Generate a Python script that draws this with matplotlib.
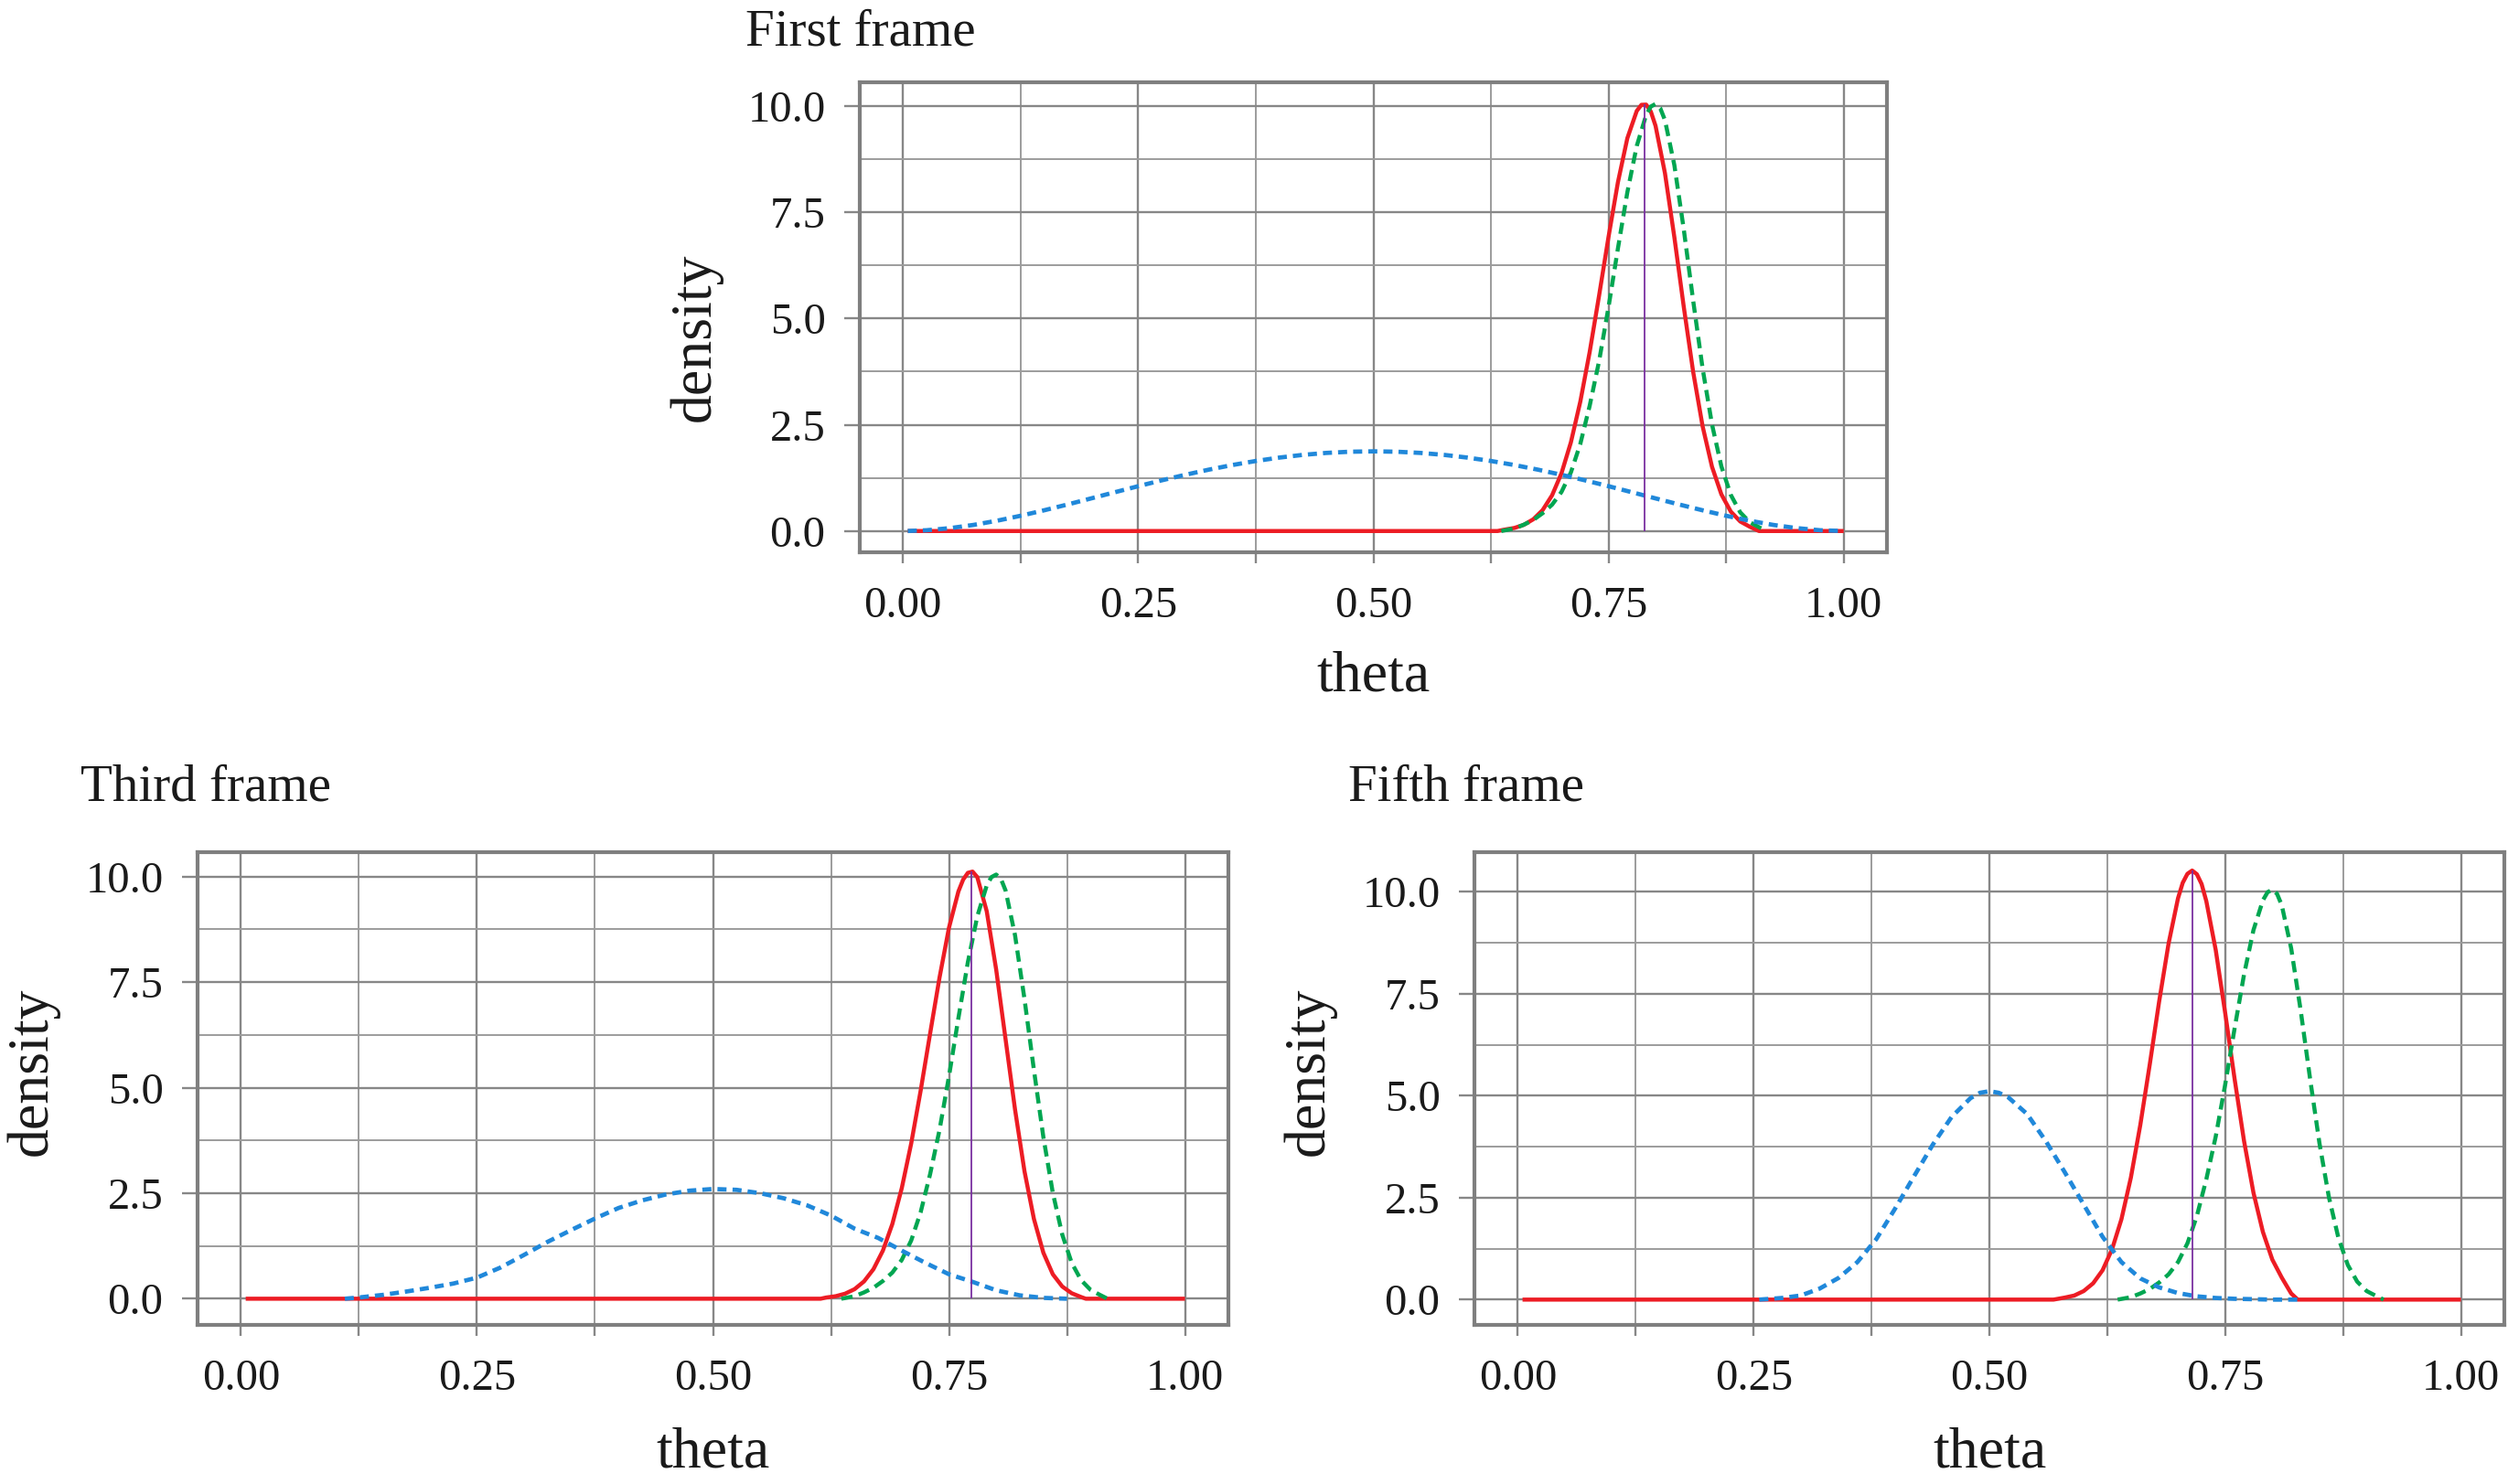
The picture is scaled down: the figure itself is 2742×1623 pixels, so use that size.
import matplotlib
matplotlib.use("Agg")
import matplotlib.pyplot as plt
from matplotlib.ticker import MultipleLocator, FixedLocator, FixedFormatter

plt.rcParams['font.family'] = ['Liberation Serif', 'DejaVu Serif']

# ---------------- data ----------------
# First frame
blue1_x = [0.005, 0.025, 0.05, 0.075, 0.1, 0.125, 0.15, 0.175, 0.2, 0.225, 0.25,
           0.275, 0.3, 0.325, 0.35, 0.375, 0.4, 0.425, 0.45, 0.475, 0.5,
           0.525, 0.55, 0.575, 0.6, 0.625, 0.65, 0.675, 0.7, 0.725, 0.75,
           0.775, 0.8, 0.825, 0.85, 0.875, 0.9, 0.925, 0.95, 0.975, 1.0]
blue1_y = [0.001, 0.018, 0.068, 0.144, 0.243, 0.359, 0.488, 0.625, 0.768, 0.912, 1.055,
           1.193, 1.323, 1.444, 1.553, 1.648, 1.728, 1.792, 1.838, 1.866, 1.875,
           1.866, 1.838, 1.792, 1.728, 1.648, 1.553, 1.444, 1.323, 1.193, 1.055,
           0.912, 0.768, 0.625, 0.488, 0.359, 0.243, 0.144, 0.068, 0.018, 0.0]

green_x = [0.636, 0.65, 0.66, 0.67, 0.68, 0.69, 0.70, 0.71, 0.72, 0.73, 0.74, 0.75,
           0.76, 0.77, 0.78, 0.79, 0.795, 0.80, 0.805, 0.81, 0.82, 0.83, 0.84, 0.85, 0.86,
           0.87, 0.88, 0.89, 0.90, 0.91, 0.918]
green_y = [0.0, 0.06, 0.15, 0.26, 0.42, 0.62, 0.92, 1.38, 2.05, 2.95, 4.00, 5.27,
           6.65, 7.97, 9.06, 9.79, 9.99, 10.05, 9.95, 9.67, 8.61, 7.10, 5.42, 3.83, 2.51,
           1.52, 0.85, 0.44, 0.21, 0.09, 0.0]

red1_x = [0.005, 0.632, 0.64, 0.65, 0.66, 0.67, 0.68, 0.69, 0.70, 0.71, 0.72, 0.73,
          0.74, 0.75, 0.76, 0.77, 0.78, 0.785, 0.79, 0.795, 0.80, 0.81, 0.82, 0.83, 0.84,
          0.85, 0.86, 0.87, 0.88, 0.89, 0.90, 0.91, 1.0]
red1_y = [0.0, 0.0, 0.035, 0.073, 0.146, 0.276, 0.494, 0.841, 1.36, 2.088, 3.044, 4.216,
          5.544, 6.921, 8.208, 9.243, 9.885, 10.03, 10.035, 9.87, 9.535, 8.422, 6.914, 5.276, 3.744,
          2.469, 1.513, 0.862, 0.457, 0.225, 0.103, 0.0, 0.0]
mode1 = 0.788
peak1 = 10.05

# Third frame
blue3_x = [0.11, 0.125, 0.15, 0.175, 0.2, 0.225, 0.25, 0.275, 0.3, 0.325, 0.35,
           0.375, 0.4, 0.425, 0.45, 0.475, 0.5, 0.525, 0.55, 0.575, 0.6,
           0.625, 0.65, 0.675, 0.7, 0.725, 0.75, 0.775, 0.8, 0.825, 0.85, 0.875]
blue3_y = [0.0, 0.03, 0.09, 0.17, 0.26, 0.36, 0.50, 0.74, 1.04, 1.35, 1.63,
           1.90, 2.15, 2.33, 2.47, 2.56, 2.60, 2.58, 2.50, 2.38, 2.21,
           1.97, 1.66, 1.44, 1.14, 0.85, 0.58, 0.40, 0.20, 0.08, 0.02, 0.0]

red3_x = [0.005, 0.614, 0.62, 0.63, 0.64, 0.65, 0.66, 0.67, 0.68, 0.69, 0.70, 0.71,
          0.72, 0.73, 0.74, 0.75, 0.76, 0.765, 0.77, 0.775, 0.78, 0.79, 0.80, 0.81, 0.82,
          0.83, 0.84, 0.85, 0.86, 0.87, 0.88, 0.89, 0.895, 1.0]
red3_y = [0.0, 0.0, 0.029, 0.060, 0.120, 0.227, 0.41, 0.70, 1.14, 1.77, 2.62, 3.68,
          4.93, 6.28, 7.61, 8.79, 9.65, 9.93, 10.09, 10.12, 9.99, 9.18, 7.80, 6.14, 4.48,
          3.02, 1.89, 1.09, 0.58, 0.29, 0.13, 0.04, 0.0, 0.0]
mode3 = 0.774
peak3 = 10.13

# Fifth frame
blue5_x = [0.256, 0.28, 0.30, 0.32, 0.34, 0.36, 0.38, 0.40, 0.42, 0.44, 0.46,
           0.48, 0.49, 0.50, 0.51, 0.52, 0.54, 0.56, 0.58, 0.60, 0.62, 0.64, 0.66,
           0.68, 0.70, 0.72, 0.74, 0.76, 0.80, 0.827]
blue5_y = [0.0, 0.04, 0.10, 0.27, 0.53, 0.92, 1.48, 2.23, 3.02, 3.80, 4.48,
           4.94, 5.07, 5.11, 5.07, 4.96, 4.55, 3.88, 3.12, 2.33, 1.54, 0.92, 0.52,
           0.30, 0.16, 0.08, 0.04, 0.02, 0.0, 0.0]

red5_x = [0.005, 0.568, 0.58, 0.59, 0.60, 0.61, 0.62, 0.63, 0.64, 0.65, 0.66, 0.67,
          0.68, 0.69, 0.70, 0.705, 0.71, 0.715, 0.72, 0.725, 0.73, 0.74, 0.75, 0.76, 0.77, 0.78,
          0.79, 0.80, 0.81, 0.82, 0.827, 1.0]
red5_y = [0.0, 0.0, 0.05, 0.10, 0.21, 0.40, 0.72, 1.23, 1.97, 2.99, 4.28, 5.76,
          7.31, 8.73, 9.84, 10.22, 10.44, 10.52, 10.43, 10.19, 9.77, 8.57, 7.03, 5.41, 3.89, 2.62,
          1.66, 0.98, 0.54, 0.15, 0.0, 0.0]
mode5 = 0.715
peak5 = 10.52

titles = ["First frame", "Third frame", "Fifth frame"]
x_ticks = [0.0, 0.25, 0.5, 0.75, 1.0]
x_ticklabels = ["0.00", "0.25", "0.50", "0.75", "1.00"]
y_ticks = [0.0, 2.5, 5.0, 7.5, 10.0]
y_ticklabels = ["0.0", "2.5", "5.0", "7.5", "10.0"]

# ---------------- styling ----------------
RED = "#ED1C24"
GREEN = "#00A651"
BLUE = "#2088DA"
PURPLE = "#7A2FA0"
GRID_MAJ = "#878787"
GRID_MIN = "#9C9C9C"
FRAME = "#7F7F7F"

W, H = 2742, 1623
fig = plt.figure(figsize=(W / 200, H / 200), dpi=200)


def px_axes(left, right, top, bottom):
    return fig.add_axes([left / W, 1 - bottom / H, (right - left) / W, (bottom - top) / H])


panels = [
    dict(box=(940, 2063, 90, 604), ylim=(-0.5, 10.56), blue=(blue1_x, blue1_y),
         red=(red1_x, red1_y), mode=mode1, peak=peak1,
         title_xy=(815, 50), xlab_y=-0.294, ylab=(-0.160, 0.457)),
    dict(box=(216, 1343, 932, 1449), ylim=(-0.62, 10.58), blue=(blue3_x, blue3_y),
         red=(red3_x, red3_y), mode=mode3, peak=peak3,
         title_xy=(88, 876), xlab_y=-0.30, ylab=(-0.160, 0.536)),
    dict(box=(1612, 2738, 932, 1449), ylim=(-0.62, 10.97), blue=(blue5_x, blue5_y),
         red=(red5_x, red5_y), mode=mode5, peak=peak5,
         title_xy=(1474, 876), xlab_y=-0.30, ylab=(-0.160, 0.536)),
]

for p, title in zip(panels, titles):
    ax = px_axes(*p["box"])
    ax.set_xlim(-0.046, 1.046)
    ax.set_ylim(*p["ylim"])

    ax.plot(p["red"][0], p["red"][1], color=RED, lw=1.6, zorder=3,
            solid_capstyle="butt", solid_joinstyle="round")
    ax.plot(green_x, green_y, color=GREEN, lw=1.6, ls=(0, (2.8, 1.6)), zorder=4)
    ax.plot(p["blue"][0], p["blue"][1], color=BLUE, lw=1.7, ls=(0, (2.1, 1.4)), zorder=5)
    ax.vlines(p["mode"], 0, p["peak"], color=PURPLE, lw=0.65, zorder=6)

    ax.xaxis.set_major_locator(FixedLocator(x_ticks))
    ax.xaxis.set_major_formatter(FixedFormatter(x_ticklabels))
    ax.yaxis.set_major_locator(FixedLocator(y_ticks))
    ax.yaxis.set_major_formatter(FixedFormatter(y_ticklabels))
    ax.xaxis.set_minor_locator(MultipleLocator(0.125))
    ax.yaxis.set_minor_locator(MultipleLocator(1.25))

    ax.grid(True, which="major", color=GRID_MAJ, lw=0.85, zorder=0)
    ax.grid(True, which="minor", color=GRID_MIN, lw=0.7, zorder=0)
    ax.set_axisbelow(True)

    ax.tick_params(axis="x", which="both", length=4.3, width=0.85, color=GRID_MAJ,
                   direction="out", pad=9, labelsize=17.5, labelcolor="#1a1a1a")
    ax.tick_params(axis="y", which="major", length=6.0, width=0.85, color=GRID_MAJ,
                   direction="out", pad=7.5, labelsize=17.5, labelcolor="#1a1a1a")
    ax.tick_params(axis="y", which="minor", length=0)

    for s in ax.spines.values():
        s.set_color(FRAME)
        s.set_linewidth(1.5)
        s.set_zorder(7)

    ax.set_xlabel("theta", fontsize=23, color="#1a1a1a")
    ax.xaxis.label.set_va("baseline")
    ax.xaxis.set_label_coords(0.5, p["xlab_y"])
    ax.set_ylabel("density", fontsize=23, color="#1a1a1a")
    ax.yaxis.label.set_va("center")
    ax.yaxis.set_label_coords(*p["ylab"])

    tx, ty = p["title_xy"]
    fig.text(tx / W, 1 - ty / H, title, fontsize=20.5, color="#1a1a1a",
             ha="left", va="baseline")

fig.savefig("out.png", dpi=200, facecolor="white")
